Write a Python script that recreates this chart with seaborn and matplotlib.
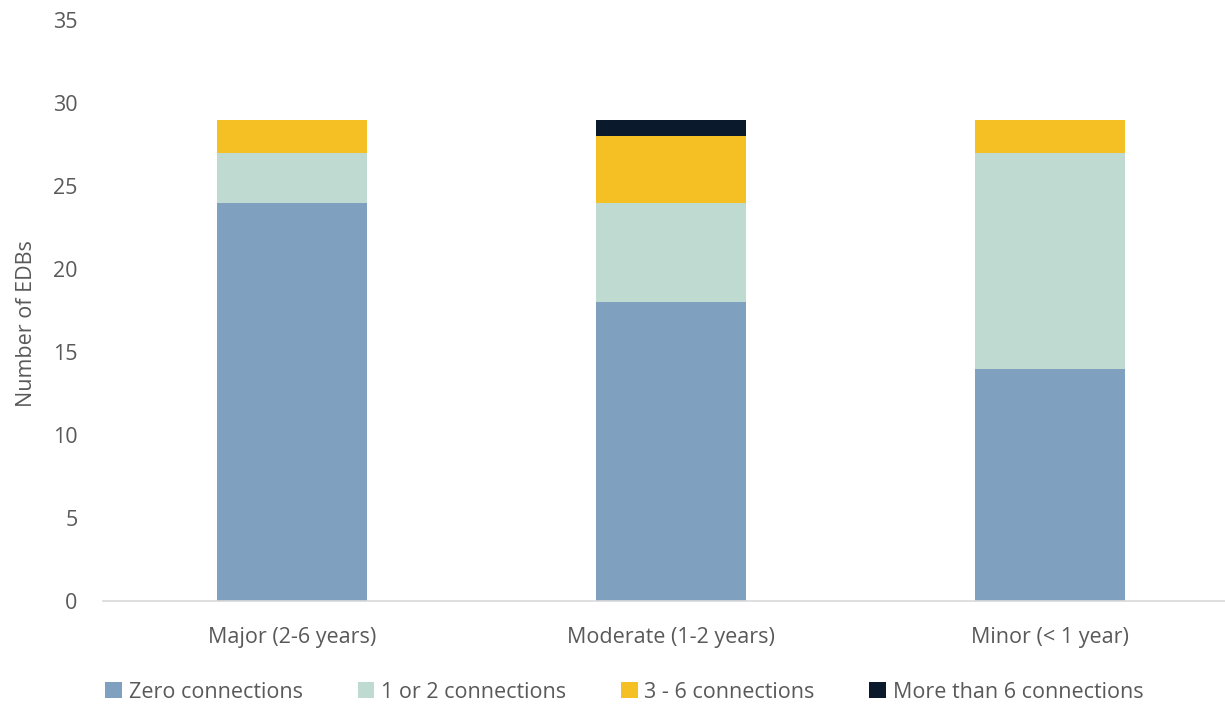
import matplotlib
matplotlib.use("Agg")
import matplotlib.pyplot as plt
import seaborn as sns
import pandas as pd
import numpy as np
from matplotlib.patches import Patch

categories = ["Major (2-6 years)", "Moderate (1-2 years)", "Minor (< 1 year)"]
series_names = ["Zero connections", "1 or 2 connections", "3 - 6 connections", "More than 6 connections"]
zero_conn = [24, 18, 14]
one_two_conn = [3, 6, 13]
three_six_conn = [2, 4, 2]
more_six_conn = [0, 1, 0]
colors = ["#7FA1BF", "#BFDBD1", "#F5C023", "#0A192B"]

sns.set_theme(style="white")
plt.rcParams["font.family"] = ["Open Sans", "DejaVu Sans"]
text_color = "#595959"
fs = 15.5

values = np.array([zero_conn, one_two_conn, three_six_conn, more_six_conn], dtype=float)
cumulative = np.cumsum(values, axis=0)

fig = plt.figure(figsize=(12.25, 7.05), dpi=100)
ax = fig.add_axes([102.5 / 1225, 1 - 601 / 705, 1137 / 1225, (601 - 20) / 705])

# stacked bars: draw cumulative totals from the top segment down
for i in range(len(series_names) - 1, -1, -1):
    df = pd.DataFrame({"category": categories, "value": cumulative[i]})
    sns.barplot(data=df, x="category", y="value", color=colors[i],
                width=0.396, saturation=1, ax=ax, linewidth=0)

ax.set_xlim(-0.5, 2.5)
ax.set_ylim(0, 35)
ax.set_yticks(range(0, 36, 5))
ax.set_xlabel("")
ax.set_ylabel("Number of EDBs", fontsize=fs, color=text_color)
ax.yaxis.set_label_coords(-0.0576, 0.477)
ax.tick_params(axis="both", length=0, labelsize=fs, labelcolor=text_color)
ax.tick_params(axis="y", pad=18)
ax.tick_params(axis="x", pad=19)
for side in ["top", "right", "left"]:
    ax.spines[side].set_visible(False)
ax.spines["bottom"].set_color("#D9D9D9")
ax.spines["bottom"].set_linewidth(1.2)

handles = [Patch(facecolor=c, edgecolor="none") for c in colors]
fig.legend(handles, series_names, loc="center left", bbox_to_anchor=(86 / 1225, 1 - 692 / 705),
           ncol=4, frameon=False, fontsize=fs, labelcolor=text_color,
           handlelength=0.78, handleheight=0.78, handletextpad=0.3, columnspacing=2.55)

fig.savefig("out.png", dpi=100)
